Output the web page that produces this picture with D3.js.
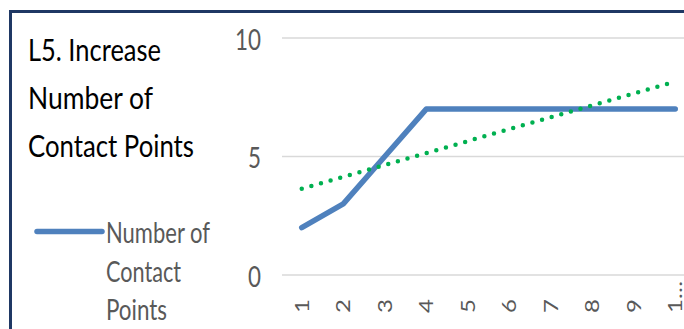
<!DOCTYPE html>
<html>
<head>
<meta charset="utf-8">
<script src="https://cdn.jsdelivr.net/npm/d3@7/dist/d3.min.js"></script>
<style>
  html, body { margin: 0; padding: 0; background: #fff; }
  svg { display: block; }
  text { font-family: Lato, "Liberation Sans", sans-serif; }
</style>
</head>
<body>
<div id="chart"></div>
<script>
// Series data
const categories = ["1", "2", "3", "4", "5", "6", "7", "8", "9", "10"];
const contactPoints = [2, 3, 5, 7, 7, 7, 7, 7, 7, 7];
const xTickLabels = ["1", "2", "3", "4", "5", "6", "7", "8", "9", "1…"];
const yTicks = [0, 5, 10];
const titleLines = ["L5. Increase", "Number of", "Contact Points"];
const legendLines = ["Number of", "Contact", "Points"];

const W = 684, H = 329;
const svg = d3.select("#chart").append("svg")
  .attr("width", W).attr("height", H);

svg.append("rect").attr("width", W).attr("height", H).attr("fill", "#fff");

// Frame (runs off the right and bottom edges)
svg.append("rect")
  .attr("x", 10.5).attr("y", 11.5)
  .attr("width", W + 20).attr("height", H + 20)
  .attr("fill", "none").attr("stroke", "#1F3864").attr("stroke-width", 3);

// Scales
const x = d3.scaleBand().domain(categories).range([281, 696]).padding(0);
const cx = c => x(c) + x.bandwidth() / 2;
const y = d3.scaleLinear().domain([0, 10]).range([275, 38]);

// Gridlines
svg.append("g").selectAll("line").data(yTicks).join("line")
  .attr("x1", 282).attr("x2", W)
  .attr("y1", d => y(d)).attr("y2", d => y(d))
  .attr("stroke", "#D9D9D9").attr("stroke-width", 1.5);

// Y axis labels
const yAxis = d3.axisLeft(y).tickValues(yTicks).tickSize(0).tickPadding(0);
const yg = svg.append("g").attr("transform", "translate(261,0)").call(yAxis);
yg.select(".domain").remove();
yg.selectAll("text")
  .attr("fill", "#595959").attr("font-size", 28)
  .attr("x", null).attr("dy", null)
  .attr("dominant-baseline", "central")
  .attr("text-anchor", "end")
  .attr("transform", function (d) { return "translate(0,0) scale(0.8,1)"; })
  .style("font-family", "Lato, 'Liberation Sans', sans-serif");

// X axis labels (rotated)
svg.append("g").selectAll("text").data(categories).join("text")
  .attr("transform", d => `translate(${cx(d)},313) scale(0.8,1) rotate(-90)`)
  .attr("text-anchor", "start")
  .attr("dy", "0.36em")
  .attr("font-size", 24)
  .attr("fill", "#595959")
  .text((d, i) => xTickLabels[i]);

// Data line
const line = d3.line().x((d, i) => cx(categories[i])).y(d => y(d));
svg.append("path")
  .datum(contactPoints)
  .attr("d", line)
  .attr("fill", "none")
  .attr("stroke", "#4F81BD")
  .attr("stroke-width", 5.5)
  .attr("stroke-linejoin", "round")
  .attr("stroke-linecap", "round");

// Linear trendline (least squares over the series)
const xs = contactPoints.map((d, i) => i + 1);
const mx = d3.mean(xs), my = d3.mean(contactPoints);
const slope = d3.sum(xs, (v, i) => (v - mx) * (contactPoints[i] - my)) /
              d3.sum(xs, v => (v - mx) * (v - mx));
const intercept = my - slope * mx;
const trend = [xs[0], xs[xs.length - 1]].map(v => [cx(categories[v - 1]), y(intercept + slope * v)]);
svg.append("path")
  .attr("d", d3.line()(trend))
  .attr("fill", "none")
  .attr("stroke", "#00B050")
  .attr("stroke-width", 4.5)
  .attr("stroke-linecap", "round")
  .attr("stroke-dasharray", "0 10");

// Title
const titleWidths = [133, 125, 166];
svg.append("g").selectAll("text").data(titleLines).join("text")
  .attr("x", 28).attr("y", (d, i) => 61 + i * 48)
  .attr("font-size", 31)
  .attr("fill", "#000")
  .attr("textLength", (d, i) => titleWidths[i])
  .attr("lengthAdjust", "spacingAndGlyphs")
  .text(d => d);

// Legend
svg.append("line")
  .attr("x1", 37).attr("x2", 102).attr("y1", 231.5).attr("y2", 231.5)
  .attr("stroke", "#4F81BD").attr("stroke-width", 5.5)
  .attr("stroke-linecap", "round");
const legendWidths = [104, 75, 61];
const legendBase = [243, 282, 320];
svg.append("g").selectAll("text").data(legendLines).join("text")
  .attr("x", 106).attr("y", (d, i) => legendBase[i])
  .attr("font-size", 28)
  .attr("fill", "#595959")
  .attr("textLength", (d, i) => legendWidths[i])
  .attr("lengthAdjust", "spacingAndGlyphs")
  .text(d => d);
</script>
</body>
</html>
